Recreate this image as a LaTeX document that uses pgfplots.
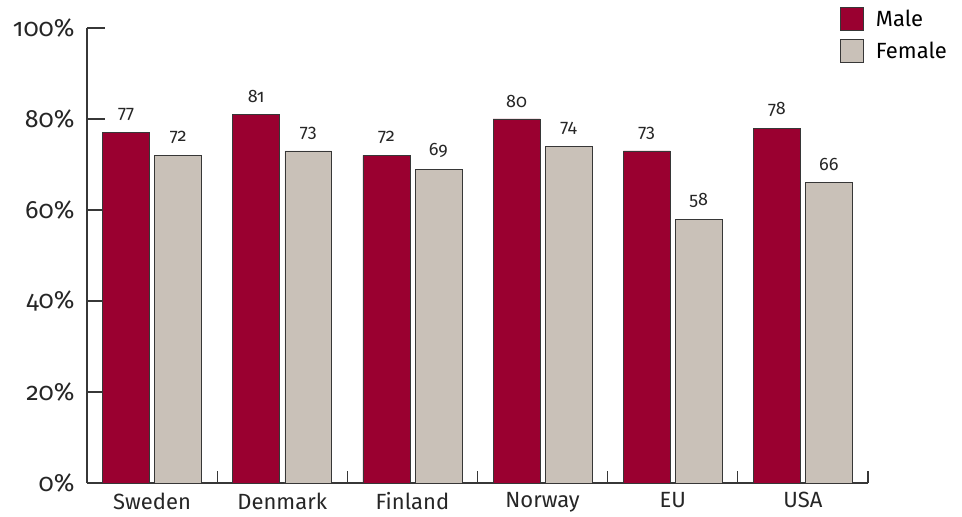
\documentclass[border=0pt]{standalone}
\usepackage{pgfplots}
\pgfplotsset{compat=1.18}
\usepackage{fontspec}
\setmainfont{Fira Sans}[Numbers=OldStyle]
\newfontfamily\numfont{Fira Sans}[Numbers=OldStyle]
\definecolor{male}{RGB}{154,0,48}
\definecolor{female}{RGB}{201,193,184}
\definecolor{axisc}{RGB}{55,55,55}
\pgfplotsset{
  sqlegend/.style={legend image code/.code={\draw[##1, draw=axisc, line width=0.8pt] (0pt,-11.5pt) rectangle (23pt,11.5pt);}}
}
\begin{document}
\begin{tikzpicture}
\path[use as bounding box] (-87pt,-34pt) rectangle (875pt,483pt);
\begin{axis}[
  scale only axis, width=781pt, height=455pt,
  at={(0pt,0pt)}, anchor=origin,
  xmin=0, xmax=6, ymin=0, ymax=100,
  axis x line=bottom, axis y line=left,
  axis line style={-, draw=axisc, line width=1.2pt},
  tick align=inside,
  xtick={0.5,1.5,2.5,3.5,4.5,5.5},
  xticklabels={Sweden,Denmark,Finland,Norway,EU,USA},
  major x tick style={draw=none},
  extra x ticks={1,2,3,4,5,6},
  extra x tick labels={},
  extra x tick style={major tick length=12pt, major x tick style={draw=axisc, line width=1.2pt}},
  ytick={0,20,40,60,80,100},
  yticklabel={\numfont\pgfmathprintnumber[assume math mode=true]{\tick}\%},
  major y tick style={draw=axisc, line width=1.2pt},
  major tick length=18pt,
  xticklabel style={font=\fontsize{22}{22}\selectfont, text=black!85, yshift=-6pt},
  yticklabel style={font=\fontsize{25}{25}\selectfont, text=black!85, xshift=-9pt},
  nodes near coords={\numfont\pgfmathprintnumber[assume math mode=true]{\pgfplotspointmeta}},
  every node near coord/.append style={font=\fontsize{18}{18}\selectfont, text=black!85, yshift=8pt},
  legend style={draw=none, fill=none, at={(0.964,1.046)}, anchor=north west,
    font=\fontsize{22}{22}\selectfont, inner sep=0pt, row sep=8pt,
    /tikz/every odd column/.style={column sep=10pt}},
  legend cell align=left,
  clip=false,
]
\addplot[ybar, bar width=0.36, bar shift=0pt, fill=male, draw=axisc, line width=0.6pt, sqlegend]
  coordinates {(0.3,77) (1.3,81) (2.3,72) (3.3,80) (4.3,73) (5.3,78)};
\addplot[ybar, bar width=0.36, bar shift=0pt, fill=female, draw=axisc, line width=0.6pt, sqlegend]
  coordinates {(0.7,72) (1.7,73) (2.7,69) (3.7,74) (4.7,58) (5.7,66)};
\legend{Male,Female}
\end{axis}
\end{tikzpicture}
\end{document}
